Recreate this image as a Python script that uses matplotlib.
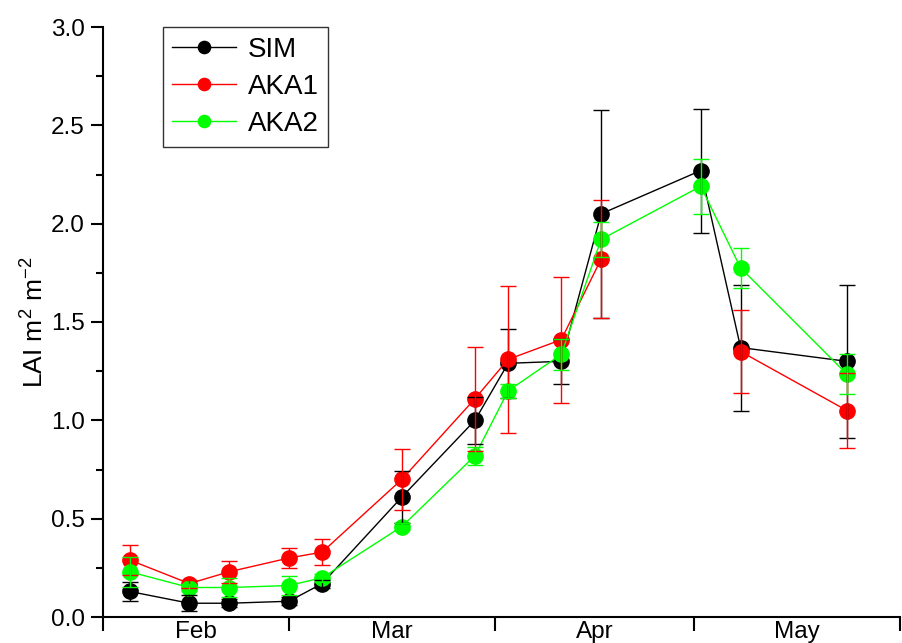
import numpy as np
import matplotlib
matplotlib.use("Agg")
import matplotlib.pyplot as plt

plt.rcParams['font.family'] = ['Liberation Sans', 'DejaVu Sans']
plt.rcParams['mathtext.fontset'] = 'custom'
plt.rcParams['mathtext.rm'] = 'Liberation Sans'
plt.rcParams['mathtext.it'] = 'Liberation Sans'

# days since 1 Feb
days = [4, 13, 19, 28, 33, 45, 56, 61, 69, 75, 90, 96, 112]

sim = [0.13, 0.07, 0.07, 0.08, 0.17, 0.61, 1.00, 1.29, 1.30, 2.05, 2.27, 1.37, 1.30]
sim_err = [0.05, 0.04, 0.02, 0.02, 0.02, 0.13, 0.12, 0.175, 0.115, 0.53, 0.315, 0.32, 0.39]

aka1 = [0.29, 0.17, 0.23, 0.30, 0.33, 0.70, 1.11, 1.31, 1.41, 1.82, np.nan, 1.35, 1.05]
aka1_err = [0.075, 0.02, 0.055, 0.05, 0.065, 0.155, 0.265, 0.375, 0.32, 0.30, np.nan, 0.21, 0.19]

aka2 = [0.23, 0.15, 0.15, 0.16, 0.20, 0.46, 0.82, 1.15, 1.335, 1.92, 2.19, 1.775, 1.235]
aka2_err = [0.075, 0.02, 0.05, 0.05, 0.02, 0.02, 0.045, 0.037, 0.08, 0.09, 0.14, 0.10, 0.10]

month_bounds = [0, 28, 59, 89, 120]
month_labels = ['Feb', 'Mar', 'Apr', 'May']

series = [('SIM', sim, sim_err, '#000000'),
          ('AKA1', aka1, aka1_err, '#ff0000'),
          ('AKA2', aka2, aka2_err, '#00ff00')]

fig = plt.figure(figsize=(9.02, 6.43), dpi=100)
ax = fig.add_axes([103/902, 26/643, 797/902, 590/643])

for i, (name, y, e, c) in enumerate(series):
    ax.plot(days, y, '-o', color=c, lw=1.0, ms=11, mec=c, mfc=c, label=name, zorder=3 + i)
    ax.errorbar(days, y, yerr=e, fmt='none', ecolor=c, elinewidth=1.0, capsize=6, capthick=1.0,
                zorder=6 + i)

ax.set_xlim(month_bounds[0], month_bounds[-1])
ax.set_ylim(0, 3.0)
ax.set_yticks(np.arange(0, 3.01, 0.5))
ax.set_yticks(np.arange(0.25, 3.0, 0.5), minor=True)
ax.set_yticklabels([f'{v:.1f}' for v in np.arange(0, 3.01, 0.5)])

ax.set_xticks(month_bounds)
ax.set_xticklabels([])
mids = [(month_bounds[i] + month_bounds[i + 1]) / 2 for i in range(4)]
ax.set_xticks(mids, minor=True)
ax.set_xticklabels(month_labels, minor=True)

ax.spines['top'].set_visible(False)
ax.spines['right'].set_visible(False)
ax.spines['left'].set_linewidth(1.5)
ax.spines['bottom'].set_linewidth(1.5)

ax.tick_params(axis='y', which='major', direction='out', length=9, width=1.5, labelsize=17.5, pad=4)
ax.tick_params(axis='y', which='minor', direction='out', length=5, width=1.5)
ax.tick_params(axis='x', which='major', direction='out', length=10, width=1.5)
ax.tick_params(axis='x', which='minor', length=0, labelsize=17.5, pad=3)

ax.set_ylabel('LAI m$^{2}$ m$^{-2}$', fontsize=19, labelpad=2)

leg = ax.legend(loc='upper left', bbox_to_anchor=(0.075, 1.0), borderaxespad=0,
                fontsize=20, frameon=True, fancybox=False, edgecolor='black',
                handlelength=2.3, markerscale=0.8, labelspacing=0.4, borderpad=0.35,
                handletextpad=0.4)
leg.get_frame().set_linewidth(1.0)

fig.savefig('out.png', dpi=100)
